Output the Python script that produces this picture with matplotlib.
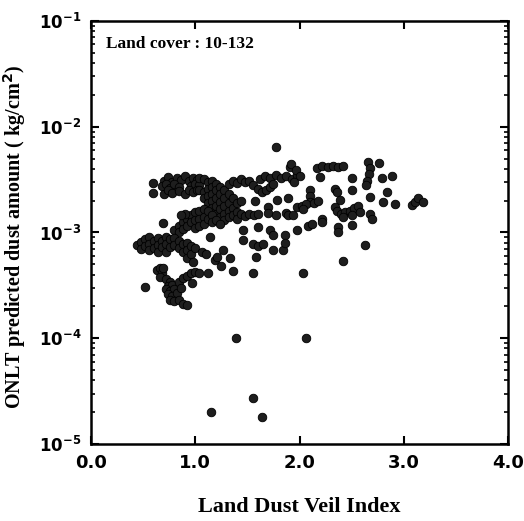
import matplotlib
matplotlib.use("Agg")
import matplotlib.pyplot as plt
import matplotlib.ticker as mticker
import numpy as np

# ---- data ----
# upper-left band
band_top_x = [0.59, 0.59, 0.70, 0.74, 0.78, 0.82, 0.86, 0.90, 0.94, 0.98, 1.02,
              0.68, 0.72, 0.76, 0.80, 0.84, 0.96, 1.00, 1.04,
              0.70, 0.74, 0.78, 0.84, 0.90, 0.94, 0.98, 1.02]
band_top_y = [2.95e-3, 2.36e-3, 3.1e-3, 3.35e-3, 3.0e-3, 3.3e-3, 3.15e-3, 3.4e-3, 3.05e-3, 3.3e-3, 3.15e-3,
              2.75e-3, 2.9e-3, 2.65e-3, 2.85e-3, 2.7e-3, 2.75e-3, 2.9e-3, 2.8e-3,
              2.3e-3, 2.5e-3, 2.35e-3, 2.45e-3, 2.3e-3, 2.55e-3, 2.4e-3, 2.5e-3]
# diagonal band descending to the right
diag_x = [1.04, 1.04, 1.08, 1.08, 1.08, 1.12, 1.12, 1.12, 1.12,
          1.16, 1.16, 1.16, 1.16, 1.16, 1.20, 1.20, 1.20, 1.20, 1.20,
          1.24, 1.24, 1.24, 1.24, 1.24, 1.28, 1.28, 1.28, 1.28, 1.28,
          1.32, 1.32, 1.32, 1.32, 1.32, 1.36, 1.36, 1.36, 1.40, 1.40, 1.40,
          1.44, 1.44, 1.48, 1.52, 1.36, 1.40, 1.44, 1.48, 1.52, 1.56, 1.60]
diag_y = [3.3e-3, 2.5e-3, 3.2e-3, 2.4e-3, 2.1e-3, 3.0e-3, 2.6e-3, 2.2e-3, 1.9e-3,
          3.1e-3, 2.7e-3, 2.3e-3, 2.0e-3, 1.7e-3, 2.9e-3, 2.5e-3, 2.1e-3, 1.8e-3, 1.5e-3,
          2.7e-3, 2.3e-3, 1.95e-3, 1.65e-3, 1.4e-3, 2.5e-3, 2.1e-3, 1.8e-3, 1.5e-3, 1.3e-3,
          2.9e-3, 2.3e-3, 1.9e-3, 1.6e-3, 1.4e-3, 2.1e-3, 1.7e-3, 1.45e-3, 1.9e-3, 1.55e-3, 1.35e-3,
          2.0e-3, 1.5e-3, 1.42e-3, 1.5e-3, 3.1e-3, 2.95e-3, 3.2e-3, 3.0e-3, 3.1e-3, 1.45e-3, 1.5e-3]
# middle blob
mid_x = [0.69, 0.80, 0.84, 0.84, 0.88, 0.88, 0.92, 0.92, 0.96, 0.96, 1.00, 1.00, 1.00,
         1.04, 1.04, 1.04, 1.08, 1.08, 1.08, 1.12, 1.12, 1.16, 1.16, 1.20, 1.24, 0.90, 0.86]
mid_y = [1.23e-3, 1.05e-3, 1.15e-3, 1.0e-3, 1.25e-3, 1.08e-3, 1.35e-3, 1.15e-3, 1.45e-3, 1.25e-3,
         1.55e-3, 1.3e-3, 1.1e-3, 1.6e-3, 1.35e-3, 1.15e-3, 1.65e-3, 1.4e-3, 1.2e-3, 1.6e-3,
         1.35e-3, 1.45e-3, 1.25e-3, 1.3e-3, 1.2e-3, 1.5e-3, 1.45e-3]
# left band around 7e-4
left_x = [0.44, 0.48, 0.48, 0.52, 0.52, 0.56, 0.56, 0.56, 0.60, 0.60, 0.64, 0.64, 0.64,
          0.68, 0.68, 0.72, 0.72, 0.72, 0.76, 0.76, 0.80, 0.80, 0.84, 0.84, 0.88, 0.88,
          0.92, 0.92, 0.92, 0.96, 0.96, 0.98, 1.00, 1.06, 1.10, 1.14, 1.19]
left_y = [7.6e-4, 8.2e-4, 7.0e-4, 8.6e-4, 7.4e-4, 9.0e-4, 7.8e-4, 6.9e-4, 8.3e-4, 7.1e-4,
          8.9e-4, 7.6e-4, 6.6e-4, 8.4e-4, 7.3e-4, 9.0e-4, 7.8e-4, 6.5e-4, 8.6e-4, 7.3e-4,
          8.9e-4, 7.6e-4, 8.3e-4, 7.1e-4, 7.8e-4, 6.5e-4, 8.0e-4, 6.9e-4, 5.8e-4, 7.5e-4,
          6.2e-4, 5.3e-4, 7.2e-4, 6.6e-4, 6.2e-4, 9.1e-4, 5.5e-4]
# low cluster
low_x = [0.63, 0.66, 0.68, 0.66, 0.72, 0.76, 0.74, 0.78, 0.72, 0.76, 0.80, 0.74, 0.78,
         0.82, 0.76, 0.80, 0.84, 0.88, 0.92, 0.84, 0.88, 0.92, 0.96, 0.86, 1.00, 1.04,
         1.12, 0.97, 0.52, 0.69]
low_y = [4.4e-4, 4.6e-4, 4.1e-4, 3.8e-4, 3.6e-4, 3.4e-4, 3.1e-4, 3.2e-4, 2.9e-4, 2.8e-4,
         2.9e-4, 2.6e-4, 2.5e-4, 2.7e-4, 2.3e-4, 2.25e-4, 2.3e-4, 2.1e-4, 2.05e-4, 3.4e-4,
         3.7e-4, 3.9e-4, 4.1e-4, 3.0e-4, 4.2e-4, 4.1e-4, 4.1e-4, 3.3e-4, 3.05e-4, 4.6e-4]
# scattered points in the middle
scat_x = [1.46, 1.60, 1.72, 1.75, 1.86, 1.46, 1.55, 1.60, 1.65, 1.58, 1.75, 1.84, 1.86,
          1.27, 1.33, 1.21, 1.25, 1.36, 1.55, 2.03, 2.42, 2.63]
scat_y = [1.06e-3, 1.13e-3, 1.06e-3, 9.5e-4, 9.5e-4, 8.5e-4, 7.8e-4, 7.4e-4, 7.8e-4, 5.9e-4,
          6.8e-4, 6.8e-4, 8.0e-4, 6.8e-4, 5.7e-4, 5.9e-4, 4.8e-4, 4.3e-4, 4.1e-4, 4.1e-4,
          5.4e-4, 7.6e-4]
# right-hand group
right_x = [1.77, 1.91, 1.62, 1.67, 1.72, 1.77, 1.82, 1.87, 1.93, 1.98, 1.92, 1.97, 2.00,
           1.95, 1.55, 1.60, 1.64, 1.68, 1.72, 1.75, 1.57, 1.70, 1.78, 1.89, 1.70, 1.87,
           1.77, 1.89, 1.94, 2.17, 2.22, 2.27, 2.32, 2.37, 2.42, 2.20, 2.50, 2.66, 2.76,
           2.68, 2.67, 2.65, 2.64, 2.89, 2.79, 2.34, 2.36, 2.50, 2.84, 2.68, 2.80, 2.92,
           3.08, 3.11, 3.14, 3.18, 2.39, 2.10, 2.10, 2.10, 1.98, 2.02, 2.06, 2.14, 2.18,
           2.03, 2.34, 2.36, 2.40, 2.44, 2.48, 2.52, 2.56, 2.42, 2.50, 2.58, 2.68, 2.70,
           2.50, 2.37, 2.37, 2.22, 2.22, 2.08, 2.12, 1.98]
right_y = [6.4e-3, 4.2e-3, 3.2e-3, 3.4e-3, 3.3e-3, 3.5e-3, 3.3e-3, 3.4e-3, 3.2e-3, 3.5e-3,
           4.4e-3, 3.9e-3, 3.4e-3, 3.0e-3, 2.8e-3, 2.6e-3, 2.4e-3, 2.5e-3, 2.7e-3, 2.9e-3,
           2.0e-3, 1.74e-3, 2.03e-3, 2.12e-3, 1.53e-3, 1.53e-3, 1.46e-3, 1.46e-3, 1.46e-3,
           4.1e-3, 4.3e-3, 4.2e-3, 4.3e-3, 4.2e-3, 4.3e-3, 3.35e-3, 3.28e-3, 4.6e-3, 4.5e-3,
           4.1e-3, 3.6e-3, 3.1e-3, 2.8e-3, 3.45e-3, 3.28e-3, 2.6e-3, 2.4e-3, 2.52e-3, 2.4e-3,
           2.17e-3, 1.94e-3, 1.86e-3, 1.82e-3, 1.95e-3, 2.1e-3, 1.95e-3, 2.03e-3, 2.5e-3,
           2.2e-3, 1.95e-3, 1.75e-3, 1.8e-3, 1.85e-3, 1.9e-3, 2.0e-3, 1.65e-3, 1.75e-3,
           1.6e-3, 1.5e-3, 1.55e-3, 1.6e-3, 1.7e-3, 1.8e-3, 1.4e-3, 1.45e-3, 1.55e-3, 1.5e-3,
           1.35e-3, 1.18e-3, 1.13e-3, 1.0e-3, 1.35e-3, 1.25e-3, 1.15e-3, 1.2e-3, 1.06e-3]
# outliers at the bottom
out_x = [1.39, 2.06, 1.55, 1.15, 1.64]
out_y = [1.0e-4, 1.0e-4, 2.7e-5, 2.0e-5, 1.8e-5]

x_ticks = [0.0, 1.0, 2.0, 3.0, 4.0]
x_tick_labels = ["0.0", "1.0", "2.0", "3.0", "4.0"]
y_ticks = [1e-5, 1e-4, 1e-3, 1e-2, 1e-1]
y_tick_labels = [r"$10^{-5}$", r"$10^{-4}$", r"$10^{-3}$", r"$10^{-2}$", r"$10^{-1}$"]

# ---- style ----
plt.rcParams["mathtext.fontset"] = "custom"
plt.rcParams["mathtext.rm"] = "DejaVu Sans:bold"
plt.rcParams["mathtext.it"] = "DejaVu Sans:bold"
plt.rcParams["mathtext.bf"] = "DejaVu Sans:bold"

fig = plt.figure(figsize=(5.24, 5.21), dpi=100)
ax = fig.add_axes([0.1737, 0.1478, 0.7958, 0.8119])

xs = band_top_x + diag_x + mid_x + left_x + low_x + scat_x + right_x + out_x
ys = band_top_y + diag_y + mid_y + left_y + low_y + scat_y + right_y + out_y
ax.scatter(xs, ys, s=38, c="#1e1e1e", edgecolors="#000000", linewidths=0.6, zorder=3)

ax.set_yscale("log")
ax.set_xlim(0, 4)
ax.set_ylim(1e-5, 1e-1)

ax.set_xticks(x_ticks)
ax.set_xticklabels(x_tick_labels, fontfamily="DejaVu Sans", fontweight="bold", fontsize=13)
ax.set_yticks(y_ticks)
ax.set_yticklabels(y_tick_labels, fontsize=12)
ax.yaxis.set_minor_locator(mticker.LogLocator(base=10, subs=np.arange(2, 10)))
ax.yaxis.set_minor_formatter(mticker.NullFormatter())
ax.xaxis.set_minor_locator(mticker.NullLocator())

ax.tick_params(which="both", direction="in", top=True, right=True, color="black")
ax.tick_params(which="major", length=6, width=1.5, pad=7)
ax.tick_params(which="minor", length=3, width=1.2)
for sp in ax.spines.values():
    sp.set_linewidth(1.8)

ax.set_xlabel("Land Dust Veil Index", fontfamily="Liberation Serif", fontweight="bold",
              fontsize=16, labelpad=18)
ax.set_ylabel(r"ONLT predicted dust amount ( kg/cm$^{\mathbf{2}}$)", fontfamily="Liberation Serif",
              fontweight="bold", fontsize=14.5)
ax.yaxis.set_label_coords(-0.15, 0.49)
ax.text(0.035, 0.945, "Land cover : 10-132", transform=ax.transAxes, fontfamily="Liberation Serif",
        fontweight="bold", fontsize=12.5, va="center", ha="left")

fig.savefig("out.png", dpi=100)
